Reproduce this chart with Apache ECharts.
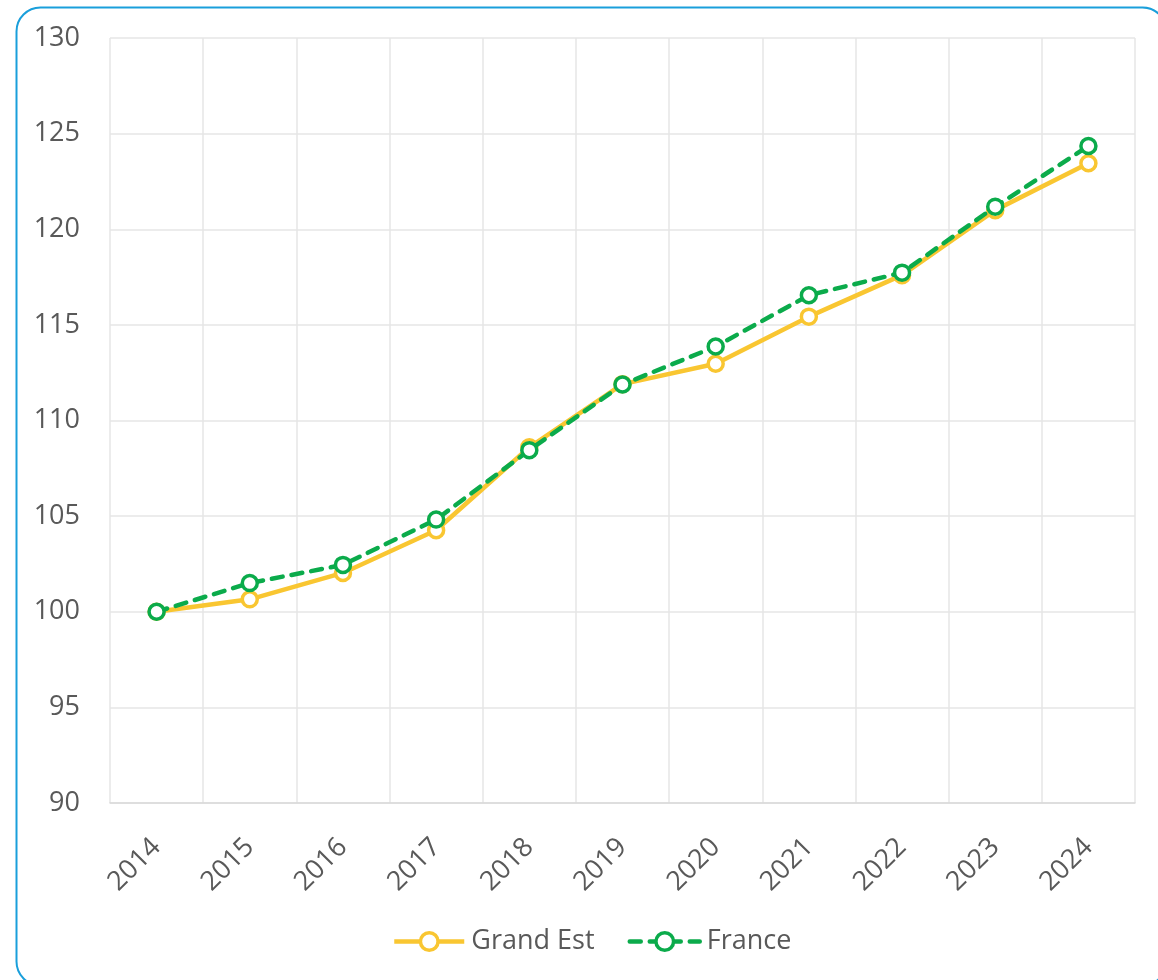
<!DOCTYPE html>
<html>
<head>
<meta charset="utf-8">
<script src="https://cdn.jsdelivr.net/npm/echarts@6/dist/echarts.min.js"></script>
<style>
  html, body { margin: 0; padding: 0; background: #fff; }
  #chart { width: 1158px; height: 980px; }
</style>
</head>
<body>
<div id="chart"></div>
<script>
// Index base 100 in 2014
const years = ['2014', '2015', '2016', '2017', '2018', '2019', '2020', '2021', '2022', '2023', '2024'];
const grandEst = [100, 100.65, 102.03, 104.26, 108.6, 111.9, 112.97, 115.43, 117.6, 121.0, 123.45];
const france = [100, 101.5, 102.45, 104.82, 108.45, 111.88, 113.87, 116.55, 117.73, 121.18, 124.35];
const yTicks = { min: 90, max: 130, step: 5 };

const textColor = '#595959';
const gridColor = '#e6e6e6';
const fontFamily = '"Open Sans", "Noto Sans", sans-serif';

const chart = echarts.init(document.getElementById('chart'));
chart.setOption({
  animation: false,
  backgroundColor: '#fff',
  textStyle: { fontFamily: fontFamily },
  graphic: [{
    type: 'rect',
    left: 14, top: 5,
    shape: { x: 0, y: 0, width: 1150, height: 978, r: 24 },
    style: { fill: 'none', stroke: '#1a9fdb', lineWidth: 2 },
    silent: true, z: 100
  }],
  grid: { left: 110, right: 23, top: 38, bottom: 177, containLabel: false },
  legend: {
    bottom: 20,
    left: 387,
    itemWidth: 70,
    itemHeight: 22,
    itemGap: 33,
    lineStyle: { width: 4.5 },
    itemStyle: { borderWidth: 3.5 },
    textStyle: { color: textColor, fontSize: 27, fontFamily: fontFamily, padding: [0, 0, 0, 2] },
    data: ['Grand Est', 'France']
  },
  xAxis: {
    type: 'category',
    data: years,
    boundaryGap: true,
    axisLine: { show: true, lineStyle: { color: '#d9d9d9', width: 1.5 } },
    axisTick: { show: false },
    splitLine: { show: true, lineStyle: { color: gridColor, width: 1.5 } },
    axisLabel: {
      rotate: 45, color: textColor, fontSize: 27, margin: 40, fontFamily: fontFamily
    }
  },
  yAxis: {
    type: 'value',
    min: yTicks.min, max: yTicks.max, interval: yTicks.step,
    axisLine: { show: false },
    axisTick: { show: false },
    splitLine: { show: true, lineStyle: { color: gridColor, width: 1.5 } },
    axisLabel: { color: textColor, fontSize: 27, margin: 30, fontFamily: fontFamily }
  },
  series: [
    {
      name: 'Grand Est',
      type: 'line',
      data: grandEst,
      symbol: 'circle',
      symbolSize: 15,
      itemStyle: { color: '#fff', borderColor: '#f9c631', borderWidth: 3.5 },
      lineStyle: { color: '#f9c631', width: 4.5 },
      z: 2
    },
    {
      name: 'France',
      type: 'line',
      data: france,
      symbol: 'circle',
      symbolSize: 15,
      itemStyle: { color: '#fff', borderColor: '#0bab4b', borderWidth: 3.5 },
      lineStyle: { color: '#0bab4b', width: 4.5, type: [11, 9], cap: 'round' },
      z: 3
    }
  ]
});
</script>
</body>
</html>
